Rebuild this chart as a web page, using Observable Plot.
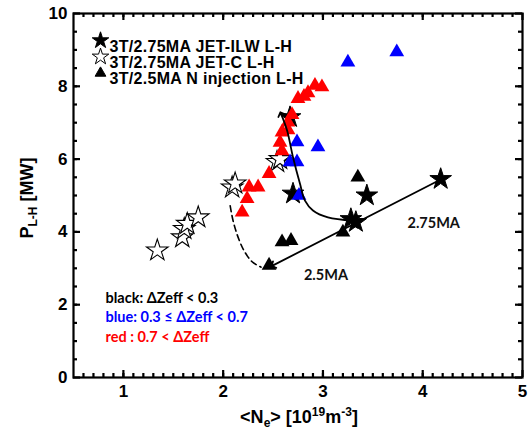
<!DOCTYPE html>
<html>
<head>
<meta charset="utf-8">
<script src="https://cdn.jsdelivr.net/npm/d3@7"></script>
<script src="https://cdn.jsdelivr.net/npm/@observablehq/plot@0.6"></script>
<style>
  html, body { margin: 0; padding: 0; background: #fff; }
</style>
</head>
<body>
<div id="chart"></div>
<script>
// ---- data ----
const ilwX = [2.67, 2.70, 3.28, 3.33, 3.44, 4.18];
const ilwY = [7.15, 5.05, 4.35, 4.27, 5.00, 5.45];

const jetcX = [1.34, 1.59, 1.61, 1.64, 1.75, 2.09, 2.12, 2.54, 2.57];
const jetcY = [3.49, 3.85, 4.08, 4.22, 4.40, 5.22, 5.33, 5.92, 6.00];

const redX = [2.19, 2.24, 2.26, 2.35, 2.46, 2.59, 2.57, 2.59, 2.65, 2.65, 2.69, 2.75, 2.81, 2.85, 2.92, 2.99];
const redY = [4.54, 4.91, 5.23, 5.23, 5.60, 6.22, 6.46, 6.74, 6.80, 7.01, 7.22, 7.66, 7.72, 7.82, 8.02, 7.98];

const blueX = [2.67, 2.74, 2.74, 2.95, 2.76, 3.25, 3.74];
const blueY = [5.92, 5.92, 6.47, 6.33, 5.00, 8.66, 8.94];

const blackX = [2.46, 2.59, 2.68, 3.20, 3.35];
const blackY = [3.08, 3.72, 3.76, 3.99, 5.50];

// solid curved arrow
const curveX = [3.30, 3.05, 2.90, 2.82, 2.77, 2.70, 2.64, 2.58];
const curveY = [4.31, 4.40, 4.59, 4.86, 5.32, 6.05, 6.79, 7.24];

// straight arrow
const arrowX = [4.18, 2.50];
const arrowY = [5.44, 3.08];

// dashed curve
const dashX = [2.07, 2.10, 2.15, 2.21, 2.29, 2.38];
const dashY = [4.72, 4.30, 3.85, 3.48, 3.18, 3.03];

const lineLabels = ["2.75MA", "2.5MA"];
const lineLabelX = [4.11, 3.03];
const lineLabelY = [4.23, 2.80];

const legendLabels = ["3T/2.75MA JET-ILW L-H", "3T/2.75MA JET-C L-H", "3T/2.5MA N injection L-H"];
const legendSymbols = ["star", "star", "triangle"];
const legendFills = ["black", "white", "black"];

const noteLabels = ["black: \u0394Zeff < 0.3", "blue: 0.3 \u2264 \u0394Zeff < 0.7", "red : 0.7 < \u0394Zeff"];
const noteColors = ["#000000", "#0000ff", "#ff0000"];

const xTicks = [1, 2, 3, 4, 5];
const yTicks = [0, 2, 4, 6, 8, 10];
const xMinor = d3.range(6, 50).map(v => v / 10);
const yMinor = d3.range(1, 20).map(v => v / 2);

const pts = (xs, ys) => xs.map((x, i) => ({x, y: ys[i]}));

const FONT = "'Liberation Sans', Arial, sans-serif";
const LFONT = "Lato, 'Open Sans', sans-serif";

const W = 528, H = 432, ML = 73, MR = 6, MT = 13, MB = 55;
const MAJ = 7, MIN = 4;

const legendMarks = legendLabels.flatMap((lab, i) => [
  Plot.dot([lab], {frameAnchor: "top-left", dx: 27, dy: 27 + i * 16.3, symbol: legendSymbols[i],
    r: legendSymbols[i] === "star" ? 5.2 : 4, fill: legendFills[i], stroke: "black", strokeWidth: 1}),
  Plot.text([lab], {frameAnchor: "top-left", dx: 36, dy: 27 + i * 16.3, text: d => d, textAnchor: "start",
    fontSize: 16, fontWeight: "bold", fontFamily: FONT, fill: "black", className: "legtext"})
]);

const noteMarks = noteLabels.map((lab, i) =>
  Plot.text([lab], {frameAnchor: "bottom-left", dx: 32, dy: -75 + i * 19.5, text: d => d, textAnchor: "start",
    fontSize: 14.5, fontWeight: "bold", fontFamily: LFONT, fill: noteColors[i]})
);

// inward ticks via Plot rules (pixel-length insets)
const innerW = W - ML - MR, innerH = H - MT - MB;
const tickMarks = [
  Plot.ruleX(xMinor, {x: d => d, insetTop: innerH - MIN, stroke: "black", strokeWidth: 2.2}),
  Plot.ruleX(xMinor, {x: d => d, insetBottom: innerH - MIN, stroke: "black", strokeWidth: 2.2}),
  Plot.ruleX(xTicks, {x: d => d, insetTop: innerH - MAJ, stroke: "black", strokeWidth: 2.2}),
  Plot.ruleX(xTicks, {x: d => d, insetBottom: innerH - MAJ, stroke: "black", strokeWidth: 2.2}),
  Plot.ruleY(yMinor, {y: d => d, insetRight: innerW - MIN, stroke: "black", strokeWidth: 2.2}),
  Plot.ruleY(yMinor, {y: d => d, insetLeft: innerW - MIN, stroke: "black", strokeWidth: 2.2}),
  Plot.ruleY(yTicks, {y: d => d, insetRight: innerW - MAJ, stroke: "black", strokeWidth: 2.2}),
  Plot.ruleY(yTicks, {y: d => d, insetLeft: innerW - MAJ, stroke: "black", strokeWidth: 2.2})
];

const chart = Plot.plot({
  width: W,
  height: H,
  marginLeft: ML,
  marginRight: MR,
  marginTop: MT,
  marginBottom: MB,
  x: {domain: [0.5, 5]},
  y: {domain: [0, 10]},
  style: {fontFamily: FONT, fontWeight: "bold", fontSize: "17px", background: "white"},
  marks: [
    Plot.axisX(xTicks, {anchor: "bottom", tickSize: 0, tickPadding: 7, label: null, fontSize: 17, fontWeight: "bold"}),
    Plot.axisY(yTicks, {anchor: "left", tickSize: 0, tickPadding: 6, label: null, fontSize: 17, fontWeight: "bold"}),
    Plot.frame({stroke: "black", strokeWidth: 2.2}),
    ...tickMarks,
    Plot.dot(pts(ilwX, ilwY), {x: "x", y: "y", symbol: "star", r: 6.8, fill: "black", stroke: "black", strokeWidth: 1}),
    Plot.dot(pts(jetcX, jetcY), {x: "x", y: "y", symbol: "star", r: 6.8, fill: "white", stroke: "black", strokeWidth: 1.1}),
    Plot.dot(pts(redX, redY), {x: "x", y: "y", symbol: "triangle", r: 5.5, fill: "#ff0000", stroke: "none"}),
    Plot.dot(pts(blueX, blueY), {x: "x", y: "y", symbol: "triangle", r: 5.5, fill: "#0000ff", stroke: "none"}),
    Plot.dot(pts(blackX, blackY), {x: "x", y: "y", symbol: "triangle", r: 5.5, fill: "black", stroke: "none"}),
    Plot.line(pts(curveX, curveY), {x: "x", y: "y", curve: "catmull-rom", stroke: "black", strokeWidth: 1.8, markerEnd: "arrow"}),
    Plot.line(pts(arrowX, arrowY), {x: "x", y: "y", stroke: "black", strokeWidth: 1.8, markerEnd: "arrow"}),
    Plot.line(pts(dashX, dashY), {x: "x", y: "y", curve: "catmull-rom", stroke: "black", strokeWidth: 1.6, strokeDasharray: "6,4"}),
    Plot.text(lineLabels, {x: (d, i) => lineLabelX[i], y: (d, i) => lineLabelY[i], text: d => d,
      fontSize: 14.5, fontWeight: "bold", fontFamily: LFONT, fill: "#111"}),
    ...legendMarks,
    ...noteMarks
  ]
});

document.getElementById("chart").appendChild(chart);

const svg = d3.select(chart);
svg.selectAll(".legtext text, g.legtext text").style("letter-spacing", "0.3px");

// axis titles with sub/superscripts
const xt = svg.append("text")
  .attr("x", 299).attr("y", 423)
  .attr("text-anchor", "middle")
  .style("font-family", FONT).style("font-weight", "bold").style("font-size", "18px").attr("fill", "black");
xt.append("tspan").text("<N");
xt.append("tspan").text("e").style("font-size", "12px").attr("dy", 4);
xt.append("tspan").text("> [10").attr("dy", -4);
xt.append("tspan").text("19").style("font-size", "12px").attr("dy", -7);
xt.append("tspan").text("m").attr("dy", 7);
xt.append("tspan").text("-3").style("font-size", "12px").attr("dy", -7);
xt.append("tspan").text("]").attr("dy", 7);

const yt = svg.append("text")
  .attr("transform", "translate(33,198) rotate(-90)")
  .attr("text-anchor", "middle")
  .style("font-family", FONT).style("font-weight", "bold").style("font-size", "18px").attr("fill", "black");
yt.append("tspan").text("P");
yt.append("tspan").text("L-H").style("font-size", "12px").attr("dy", 4);
yt.append("tspan").text(" [MW]").attr("dy", -4);
</script>
</body>
</html>
